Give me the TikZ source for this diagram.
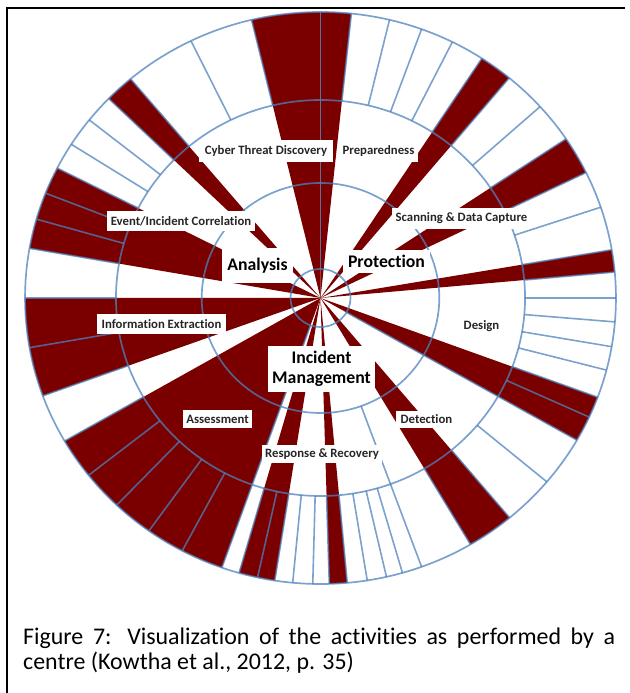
\documentclass[tikz,border=0pt]{standalone}
\usepackage{fontspec}
\setmainfont{Carlito}[Ligatures=NoCommon]
\definecolor{activity}{RGB}{122,0,0}
\definecolor{gridblue}{RGB}{79,129,189}
\begin{document}
\begin{tikzpicture}[x=1bp,y=1bp,
  ring/.style={draw=gridblue,draw opacity=0.75,line width=1.7bp},
  spoke/.style={draw=gridblue,draw opacity=0.75,line width=1.6bp},
  tag/.style={fill=white,inner sep=0pt,text=black!85,font=\bfseries\fontsize{12.8}{14}\selectfont},
  bigtag/.style={fill=white,inner sep=0pt,text=black,align=center,font=\bfseries\fontsize{17.8}{20}\selectfont},
  frameline/.style={draw=black,line width=1.6bp},
  caption/.style={anchor=base west,inner sep=0pt,font=\fontsize{24}{29}\selectfont}]
\useasboundingbox (0,0) rectangle (630,693);

% table frame
\draw[frameline] (7,0) -- (7,685) -- (625,685);

% activity wheel
\begin{scope}[shift={(320.5,395)},xscale=1.033]
  % performed activities
  \foreach \a/\b in {84/90,90/103.5,130/135.8,153/170,180/200,210/250.5,
                     254/261.1,271.7/275.2,300.5/309.8,
                     -29.8/-20.3,5.2/9.7,26/33.8,50.3/56.9}
    \fill[activity] (0,0) -- (\a:286) arc[start angle=\a,end angle=\b,radius=286] -- cycle;
  % rings
  \foreach \r in {29,115,198,286}
    \draw[ring] (0,0) circle[radius=\r];
  % activity cells of the outer ring
  \foreach \a in {84,76.5,70,63.5,56.9,50.3,42,33.8,26,18.5,9.7,5.2,0,-4.8,-9.8,-14.6,-20.3,-24.6,
                  103.5,116,130,135.8,141.5,147.5,153,158.5,164,170,180,190,200,210,218.3,226.4,234.5,242.1,
                  254,257.7,261.1,264.6,268.5,271.7,275.2,279.1,282.9,286.1,300.5,309.8,320}
    \draw[spoke] (\a:198) -- (\a:286);
  % function boundaries
  \foreach \a in {90,250.5,330.2}
    \draw[spoke] (\a:29) -- (\a:286);
  \draw[spoke] (290:115) -- (290:286);
\end{scope}

% function labels
\node[tag,minimum width=134bp,minimum height=22bp] (ctd) at (266,542) {Cyber Threat Discovery};
\node[tag,minimum width=79bp,minimum height=21bp] (prep) at (378.5,541.5) {Preparedness};
\node[tag,minimum width=139bp,minimum height=21bp] (scan) at (461.5,474.5) {Scanning \& Data Capture};
\node[tag,minimum width=148bp,minimum height=20bp] (corr) at (181,472) {Event/Incident Correlation};
\node[tag,minimum width=129bp,minimum height=20bp] (extr) at (161.5,369) {Information Extraction};
\node[tag,minimum width=48bp,minimum height=20bp] (design) at (481.5,367) {Design};
\node[tag,minimum width=69bp,minimum height=18bp] (assess) at (217.5,274) {Assessment};
\node[tag,minimum width=120bp,minimum height=18bp] (resp) at (322,239) {Response \& Recovery};
\node[tag,minimum width=61bp,minimum height=17bp] (detect) at (426.5,273.5) {Detection};

% area labels
\node[bigtag,minimum width=71bp,minimum height=35bp] (analysis) at (257.5,427.5) {Analysis};
\node[bigtag,minimum width=87bp,minimum height=23bp] (protect) at (386.5,431.5) {Protection};
\node[bigtag,minimum width=107bp,minimum height=46bp] (incident) at (321.5,324) {Incident\\Management};

% caption
\node[caption] (cap1) at (23,48) {\makebox[592bp][s]{Figure 7: Visualization of the activities as performed by a}};
\node[caption] (cap2) at (23,23) {centre (Kowtha et al., 2012, p. 35)};
\end{tikzpicture}
\end{document}
